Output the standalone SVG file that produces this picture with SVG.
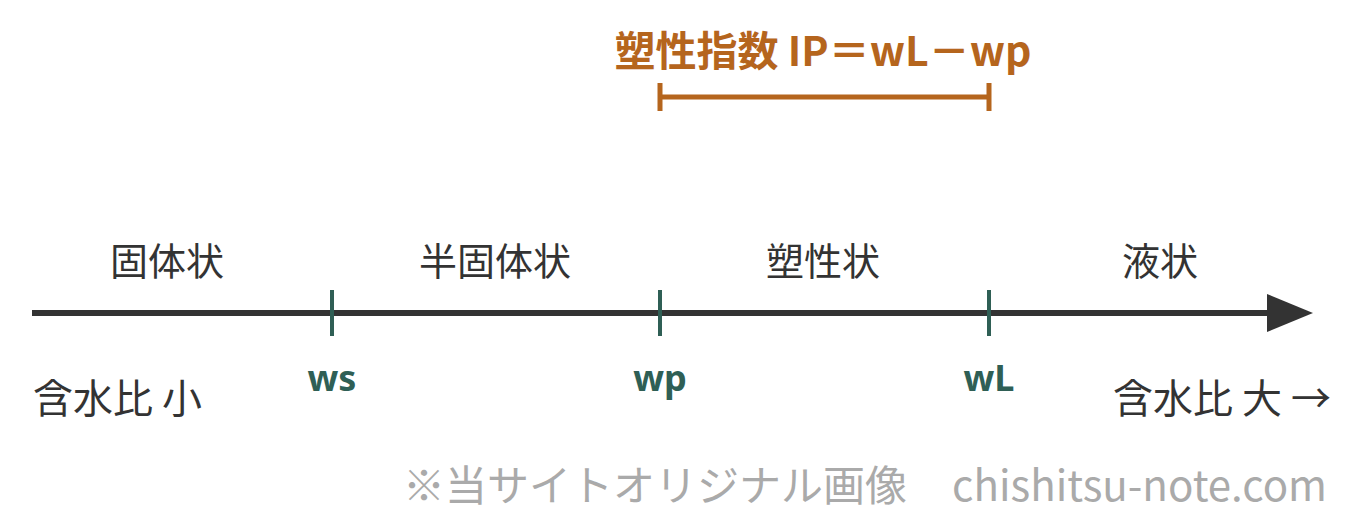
<svg xmlns="http://www.w3.org/2000/svg" width="1360" height="529" viewBox="0 0 1360 529">
<style>
.t{font-family:"Noto Sans CJK JP","Noto Sans",sans-serif;fill:#333;font-size:38px;text-anchor:middle}
.a{font-family:"Noto Sans CJK JP","Noto Sans",sans-serif;fill:#333;font-size:40px}
.g{font-family:"Noto Sans","Noto Sans CJK JP",sans-serif;fill:#2f5f55;font-size:36px;font-weight:bold;text-anchor:middle}
.tick{stroke:#2f5f55;stroke-width:4}
.o{stroke:#b5651d;stroke-width:5}
.w{font-family:"Noto Sans CJK JP","Noto Sans",sans-serif;fill:#aaa;font-size:42px}
</style>
<rect width="1360" height="529" fill="#fff"/>
<g id="connectors">
<line x1="32" y1="313" x2="1270" y2="313" stroke="#333" stroke-width="6"/>
<polygon points="1267,294 1313,313 1267,332" fill="#333"/>
</g>
<g id="ip">
<text x="823" y="66" text-anchor="middle" font-family="Noto Sans CJK JP,Noto Sans,sans-serif" font-weight="bold" font-size="41" fill="#b5651d">塑性指数 IP＝wL－wp</text>
<line class="o" x1="660" y1="97" x2="989" y2="97"/>
<line class="o" x1="660" y1="83" x2="660" y2="111"/>
<line class="o" x1="989" y1="83" x2="989" y2="111"/>
</g>
<g id="ws"><line class="tick" x1="332" y1="290" x2="332" y2="336"/><text class="g" x="332" y="391">ws</text></g>
<g id="wp"><line class="tick" x1="660" y1="290" x2="660" y2="336"/><text class="g" x="660" y="391">wp</text></g>
<g id="wL"><line class="tick" x1="989" y1="290" x2="989" y2="336"/><text class="g" x="989" y="391">wL</text></g>
<g id="states">
<text class="t" x="167" y="275">固体状</text>
<text class="t" x="495" y="275">半固体状</text>
<text class="t" x="823" y="275">塑性状</text>
<text class="t" x="1160" y="275">液状</text>
</g>
<g id="axis-labels">
<text class="a" x="33" y="413">含水比 小</text>
<text class="a" x="1113" y="413">含水比 大 →</text>
</g>
<g id="watermark">
<text class="w" x="403" y="501">※当サイトオリジナル画像</text>
<text class="w" x="1327" y="501" text-anchor="end">chishitsu-note.com</text>
</g>
</svg>
